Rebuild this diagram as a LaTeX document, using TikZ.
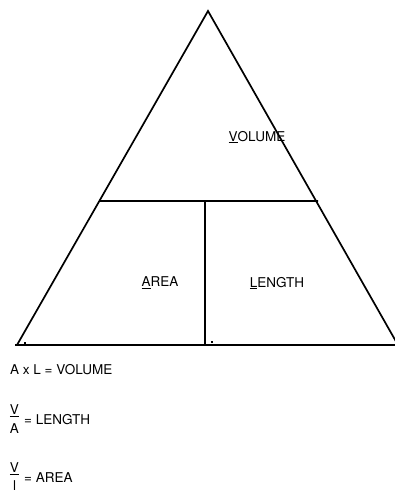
\documentclass[tikz,border=0pt]{standalone}
\usepackage{fontspec}
\setmainfont{TeX Gyre Heros}
\usetikzlibrary{calc}
\begin{document}
\begin{tikzpicture}[x=1pt,y=-1pt,
  edge/.style={line width=1.7pt, line join=miter},
  lbl/.style={inner sep=0pt, font=\fontsize{13.5}{16}\selectfont},
  dotmark/.style={fill=black, inner sep=0pt, minimum size=2pt, draw=none}]
\useasboundingbox (0,0) rectangle (395,493);
\begin{scope}
\clip (0,0) rectangle (395,493);
% triangle corners
\coordinate (apex) at (208,11);
\coordinate (bl) at (17,345);
\coordinate (br) at (398,345);
\coordinate (baseL) at (15,345);
\coordinate (ml) at ($(apex)!0.569!(bl)$);
\coordinate (mr) at (318,201);
\coordinate (vt) at (205,201);
\coordinate (vb) at (205,344);
\draw[edge] (bl) -- (apex) -- (br);
\draw[edge] (baseL) -- (br);
\draw[edge] (ml) -- (mr);
\draw[edge] (vt) -- (vb);
\end{scope}
\node[dotmark] (d1) at (25,342.5) {};
\node[dotmark] (d2) at (212,342) {};
% labels in the triangle
\node[lbl] (vol) at (257,137) {\underline{V}OLUME};
\node[lbl] (area) at (160,283) {\underline{A}REA};
\node[lbl] (len) at (277,283) {\underline{L}ENGTH};
% formulas
\node[lbl, anchor=west] (f1) at (10,370) {A x L = VOLUME};
\node[lbl] (n1) at (14.5,410.5) {\underline{V}};
\node[lbl] (d1a) at (14.5,429) {A};
\node[lbl, anchor=west] (f2) at (24,420) {= LENGTH};
\node[lbl] (n2) at (14.5,468.5) {\underline{V}};
\node[lbl] (d2a) at (14.5,486) {l};
\node[lbl, anchor=west] (f3) at (24,478) {= AREA};
\end{tikzpicture}
\end{document}
